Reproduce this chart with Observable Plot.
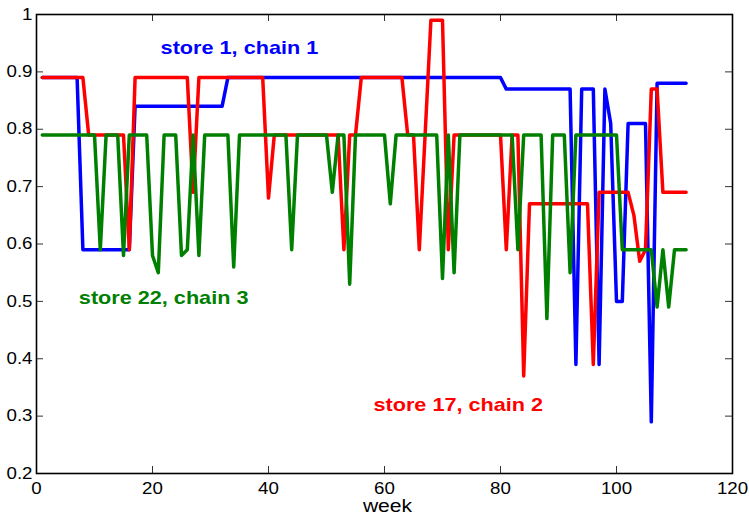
<!DOCTYPE html>
<html>
<head>
<meta charset="utf-8">
<script src="https://cdn.jsdelivr.net/npm/d3@7"></script>
<script src="https://cdn.jsdelivr.net/npm/@observablehq/plot@0.6"></script>
<style>
  html, body { margin: 0; padding: 0; background: #fff; }
</style>
</head>
<body>
<script>
// ---- data ----
const blueStore1 = [
  0.89,0.89,0.89,0.89,0.89,0.89,0.89,
  0.59,0.59,0.59,0.59,0.59,0.59,0.59,0.59,0.59,
  0.84,0.84,0.84,0.84,0.84,0.84,0.84,0.84,0.84,0.84,0.84,0.84,0.84,0.84,0.84,0.84,
  0.89,0.89,0.89,0.89,0.89,0.89,0.89,0.89,0.89,0.89,0.89,0.89,0.89,0.89,0.89,0.89,
  0.89,0.89,0.89,0.89,0.89,0.89,0.89,0.89,0.89,0.89,0.89,0.89,0.89,0.89,0.89,0.89,
  0.89,0.89,0.89,0.89,0.89,0.89,0.89,0.89,0.89,0.89,0.89,0.89,0.89,0.89,0.89,0.89,
  0.87,0.87,0.87,0.87,0.87,0.87,0.87,0.87,0.87,0.87,0.87,0.87,
  0.39,
  0.87,0.87,0.87,
  0.39,
  0.87,
  0.81,
  0.50,0.50,
  0.81,0.81,0.81,0.81,
  0.29,
  0.88,0.88,0.88,0.88,0.88,0.88
];
const redStore17 = [
  0.89,0.89,0.89,0.89,0.89,0.89,0.89,0.89,
  0.79,0.79,0.79,0.79,0.79,0.79,0.79,
  0.59,
  0.89,0.89,0.89,0.89,0.89,0.89,0.89,0.89,0.89,0.89,
  0.69,
  0.89,0.89,0.89,0.89,0.89,0.89,0.89,0.89,0.89,0.89,0.89,0.89,
  0.68,
  0.79,0.79,0.79,0.79,0.79,0.79,0.79,0.79,0.79,0.79,0.79,0.79,
  0.59,
  0.79,0.79,
  0.89,0.89,0.89,0.89,0.89,0.89,0.89,0.89,
  0.79,0.79,
  0.59,
  0.79,
  0.99,0.99,0.99,
  0.59,
  0.79,0.79,0.79,0.79,0.79,0.79,0.79,0.79,0.79,
  0.59,
  0.79,0.79,
  0.37,
  0.67,0.67,0.67,0.67,0.67,0.67,0.67,0.67,0.67,0.67,0.67,
  0.39,
  0.69,0.69,0.69,0.69,0.69,0.69,
  0.65,
  0.57,
  0.59,
  0.87,0.87,
  0.69,0.69,0.69,0.69,0.69
];
const greenStore22 = [
  0.79,0.79,0.79,0.79,0.79,0.79,0.79,0.79,0.79,0.79,
  0.59,
  0.79,0.79,0.79,
  0.58,
  0.79,0.79,0.79,0.79,
  0.58,
  0.55,
  0.79,0.79,0.79,
  0.58,
  0.59,
  0.79,
  0.58,
  0.79,0.79,0.79,0.79,0.79,
  0.56,
  0.79,0.79,0.79,0.79,0.79,0.79,0.79,0.79,0.79,
  0.59,
  0.79,0.79,0.79,0.79,0.79,0.79,
  0.69,
  0.79,0.79,
  0.53,
  0.79,0.79,0.79,0.79,0.79,0.79,
  0.67,
  0.79,0.79,0.79,0.79,0.79,0.79,0.79,0.79,
  0.54,
  0.79,
  0.55,
  0.79,0.79,0.79,0.79,0.79,0.79,0.79,0.79,0.79,0.79,
  0.59,
  0.79,0.79,0.79,0.79,
  0.47,
  0.79,0.79,0.79,
  0.55,
  0.79,0.79,0.79,0.79,0.79,0.79,0.79,0.79,
  0.59,0.59,0.59,0.59,0.59,0.59,
  0.49,
  0.59,
  0.49,
  0.59,0.59,0.59
];
const seriesNames = ["store 1, chain 1", "store 17, chain 2", "store 22, chain 3"];
const xTicks = [0, 20, 40, 60, 80, 100, 120];
const yTicks = [0.2, 0.3, 0.4, 0.5, 0.6, 0.7, 0.8, 0.9, 1];
const xLabel = "week";

// ---- build tables ----
const toRows = (vals, name) => vals.map((v, i) => ({week: i + 1, value: v, name}));
const blueRows = toRows(blueStore1, seriesNames[0]);
const redRows = toRows(redStore17, seriesNames[1]);
const greenRows = toRows(greenStore22, seriesNames[2]);

const BLUE = "#0000ff", RED = "#ff0000", GREEN = "#008000";

// layout
const W = 749, H = 516, mT = 14, mR = 17, mB = 43, mL = 36, TICK = 7;
const frameW = W - mL - mR, frameH = H - mT - mB;
const TC = "#333", TW = 1;

// annotation placement (data coordinates)
const notes = [
  {text: seriesNames[0], x: 21.4, y: 0.942, color: BLUE},
  {text: seriesNames[2], x: 7.3, y: 0.506, color: GREEN},
  {text: seriesNames[1], x: 58.1, y: 0.319, color: RED}
];

const chart = Plot.plot({
  width: W,
  height: H,
  marginTop: mT,
  marginRight: mR,
  marginBottom: mB,
  marginLeft: mL,
  x: {domain: [0, 120]},
  y: {domain: [0.2, 1]},
  style: {fontFamily: "'Liberation Sans', Arial, Helvetica, sans-serif", fontSize: "16px", color: "black", background: "white"},
  marks: [
    Plot.line(blueRows, {x: "week", y: "value", stroke: BLUE, strokeWidth: 3.5}),
    Plot.line(redRows, {x: "week", y: "value", stroke: RED, strokeWidth: 3.5}),
    Plot.line(greenRows, {x: "week", y: "value", stroke: GREEN, strokeWidth: 3.5}),
    // inward ticks on all four sides (short ticks via insets)
    Plot.tickX(xTicks, {x: d => d, insetTop: frameH - TICK, stroke: TC, strokeWidth: TW}),
    Plot.tickX(xTicks, {x: d => d, insetBottom: frameH - TICK, stroke: TC, strokeWidth: TW}),
    Plot.tickY(yTicks, {y: d => d, insetRight: frameW - TICK, stroke: TC, strokeWidth: TW}),
    Plot.tickY(yTicks, {y: d => d, insetLeft: frameW - TICK, stroke: TC, strokeWidth: TW}),
    // tick labels
    Plot.axisX({anchor: "bottom", ticks: xTicks, tickSize: 0, tickPadding: 9, label: null, fontSize: 16, tickFormat: d => String(d)}),
    Plot.axisY({anchor: "left", ticks: yTicks, tickSize: 0, tickPadding: 4, label: null, fontSize: 16, tickFormat: d => String(d)}),
    Plot.frame({stroke: "black", strokeWidth: 1.6}),
    // axis title
    Plot.text([xLabel], {frameAnchor: "bottom", lineAnchor: "top", dy: 26, dx: 3, fontSize: 18, fill: "black"}),
    // series annotations
    Plot.text(notes, {x: "x", y: "y", text: "text", fill: "color", textAnchor: "start", fontSize: 18.5, fontWeight: "bold"})
  ]
});
document.body.append(chart);

// the reference typography is horizontally stretched; reproduce that on the real text
const stretch = 1.17;
chart.querySelectorAll("text").forEach(t => {
  const len = t.getComputedTextLength();
  if (len > 0) {
    t.setAttribute("textLength", (len * stretch).toFixed(1));
    t.setAttribute("lengthAdjust", "spacingAndGlyphs");
  }
});
</script>
</body>
</html>
